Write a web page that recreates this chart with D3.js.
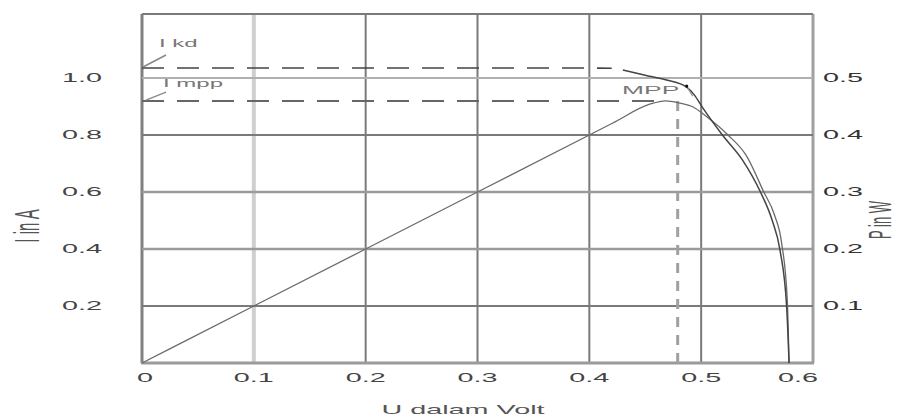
<!DOCTYPE html>
<html>
<head>
<meta charset="utf-8">
<script src="https://cdn.jsdelivr.net/npm/d3@7"></script>
<style>
  html, body { margin: 0; padding: 0; background: #fff; }
  svg { display: block; font-family: "Liberation Sans", Arial, sans-serif; }
</style>
</head>
<body>
<svg id="chart" width="902" height="416"></svg>
<script>
// ---------- data ----------
const voltTicks   = [0, 0.1, 0.2, 0.3, 0.4, 0.5, 0.6];
const voltLabels  = ["0", "0.1", "0.2", "0.3", "0.4", "0.5", "0.6"];
const currentTicks  = [0.2, 0.4, 0.6, 0.8, 1.0];
const currentLabels = ["0.2", "0.4", "0.6", "0.8", "1.0"];
const powerTicks  = [0.1, 0.2, 0.3, 0.4, 0.5];
const powerLabels = ["0.1", "0.2", "0.3", "0.4", "0.5"];

// I-V curve (A)
const ivVolt = [0, 0.1, 0.2, 0.3, 0.4, 0.42, 0.43, 0.45, 0.469, 0.487, 0.494, 0.501, 0.519, 0.537, 0.553, 0.5634, 0.5705, 0.5765, 0.5786];
const ivCurr = [1.035, 1.035, 1.035, 1.035, 1.035, 1.034, 1.028, 1.01, 0.993, 0.968, 0.94, 0.898, 0.8, 0.712, 0.6, 0.502, 0.396, 0.193, 0];
// P-V curve (W)
const pvVolt = [0, 0.1, 0.2, 0.3, 0.4, 0.421, 0.454, 0.468, 0.481, 0.492, 0.505, 0.524, 0.54, 0.556, 0.5655, 0.572, 0.577, 0.5786];
const pvPow  = [0, 0.1, 0.2, 0.3, 0.4, 0.421, 0.454, 0.46, 0.456, 0.45, 0.432, 0.4, 0.365, 0.30, 0.26, 0.21, 0.11, 0];

const iKd = 1.035;      // short-circuit current
const iMpp = 0.919;     // current at MPP
const vMpp = 0.479;     // voltage at MPP
const kneeVolt = 0.42;  // end of dashed part of I-V line

// ---------- scales ----------
const svg = d3.select("#chart");
const x = d3.scaleLinear().domain([0, 0.6]).range([142, 813]);
const yI = d3.scaleLinear().domain([0, 1.2246]).range([363, 14]);
const yP = d3.scaleLinear().domain([0, 0.6123]).range([363, 14]);

const SX = 2.4; // horizontal stretch of the reference lettering
function stretchedText(g, tx, ty, str, size, anchor, color, rot) {
  return g.append("text")
    .attr("transform", `translate(${tx},${ty}) scale(${SX},1)` + (rot ? ` rotate(${rot})` : ""))
    .attr("text-anchor", anchor || "middle")
    .attr("font-size", size)
    .attr("fill", color || "#333")
    .text(str);
}

// ---------- grid ----------
const grid = svg.append("g");
const vStyle = v => v === 0.1 ? {c: "#cfcfcf", w: 4} : (v === 0 ? {c: "#808080", w: 3} : (v === 0.6 ? {c: "#a0a0a0", w: 3} : {c: "#7a7a7a", w: 2}));
voltTicks.forEach(v => {
  const s = vStyle(v);
  grid.append("line").attr("x1", x(v)).attr("x2", x(v)).attr("y1", yI.range()[1]).attr("y2", yI(0))
    .attr("stroke", s.c).attr("stroke-width", s.w);
});
const hStyle = i => i === 1.0 ? {c: "#b0b0b0", w: 2} : ((i === 0.6 || i === 0.4) ? {c: "#9a9a9a", w: 2.5} : {c: "#7a7a7a", w: 2});
currentTicks.forEach(i => {
  const s = hStyle(i);
  grid.append("line").attr("x1", x(0)).attr("x2", x(0.6)).attr("y1", yI(i)).attr("y2", yI(i))
    .attr("stroke", s.c).attr("stroke-width", s.w);
});
// top and bottom frame
grid.append("line").attr("x1", x(0)).attr("x2", x(0.6)).attr("y1", yI.range()[1]).attr("y2", yI.range()[1])
  .attr("stroke", "#7a7a7a").attr("stroke-width", 2);
grid.append("line").attr("x1", x(0) - 1).attr("x2", x(0.6) + 1).attr("y1", yI(0)).attr("y2", yI(0))
  .attr("stroke", "#9a9a9a").attr("stroke-width", 3);

// ---------- curves ----------
const ivData = ivVolt.map((v, k) => ({v, i: ivCurr[k]}));
const pvData = pvVolt.map((v, k) => ({v, p: pvPow[k]}));

const lineI = d3.line().x(d => x(d.v)).y(d => yI(d.i)).curve(d3.curveMonotoneX);
const lineP = d3.line().x(d => x(d.v)).y(d => yP(d.p)).curve(d3.curveMonotoneX);

// I_mpp dashed horizontal
svg.append("line").attr("x1", x(0)).attr("x2", x(vMpp) - 14).attr("y1", yI(iMpp)).attr("y2", yI(iMpp))
  .attr("stroke", "#666").attr("stroke-width", 2).attr("stroke-dasharray", "22,13");
// MPP vertical dashed
svg.append("line").attr("x1", x(vMpp)).attr("x2", x(vMpp)).attr("y1", yI(iMpp)).attr("y2", yI(0))
  .attr("stroke", "#a0a0a0").attr("stroke-width", 3).attr("stroke-dasharray", "10,8");

// P-V curve
svg.append("path").datum(pvData).attr("d", lineP)
  .attr("fill", "none").attr("stroke", "#6a6a6a").attr("stroke-width", 1.3);

// I-V curve: dashed flat part (I_kd) + solid knee
svg.append("path").datum(ivData.filter(d => d.v <= kneeVolt)).attr("d", lineI)
  .attr("fill", "none").attr("stroke", "#444").attr("stroke-width", 1.6).attr("stroke-dasharray", "22,13");
svg.append("path").datum(ivData.filter(d => d.v >= kneeVolt + 0.01)).attr("d", lineI)
  .attr("fill", "none").attr("stroke", "#444").attr("stroke-width", 1.5);

// ---------- annotations ----------
const ann = svg.append("g");
ann.append("line").attr("x1", x(0) + 1).attr("y1", yI(iKd) - 1).attr("x2", x(0) + 24).attr("y2", yI(iKd) - 13)
  .attr("stroke", "#888").attr("stroke-width", 1.5);
ann.append("line").attr("x1", x(0) + 4).attr("y1", yI(iMpp) - 1).attr("x2", x(0) + 24).attr("y2", yI(iMpp) - 9)
  .attr("stroke", "#888").attr("stroke-width", 1.5);
stretchedText(ann, x(0) + 17, yI(iKd) - 21, "I kd", 10, "start", "#777");
stretchedText(ann, x(0) + 21, yI(iMpp) - 14, "I mpp", 10, "start", "#777");
stretchedText(ann, x(vMpp) - 27, yI(iMpp) - 7, "MPP", 11, "middle", "#777");
ann.append("circle").attr("cx", x(vMpp) + 9).attr("cy", yI(iMpp) - 15).attr("r", 1.6).attr("fill", "#111");
ann.append("line").attr("x1", x(vMpp) + 10).attr("y1", yI(iMpp) - 13).attr("x2", x(vMpp) + 15).attr("y2", yI(iMpp) - 5)
  .attr("stroke", "#999").attr("stroke-width", 1.2);

// ---------- tick labels ----------
const lab = svg.append("g");
voltTicks.forEach((v, k) => {
  const last = k === voltTicks.length - 1;
  stretchedText(lab, last ? x(v) + 5 : x(v) + (k === 0 ? 3 : 0), 382, voltLabels[k], 12, last ? "end" : "middle", "#444");
});
currentTicks.forEach((i, k) => stretchedText(lab, 82, yI(i) + 4, currentLabels[k], 12, "middle", "#444"));
powerTicks.forEach((p, k) => stretchedText(lab, 843, yP(p) + 4, powerLabels[k], 12, "middle", "#333"));

// ---------- axis titles ----------
stretchedText(lab, 39, 226, "I in A", 15, "middle", "#555", -90);
stretchedText(lab, 891, 220, "P in W", 13, "middle", "#555", -90);
stretchedText(lab, 463, 414, "U dalam Volt", 12, "middle", "#555");
</script>
</body>
</html>
